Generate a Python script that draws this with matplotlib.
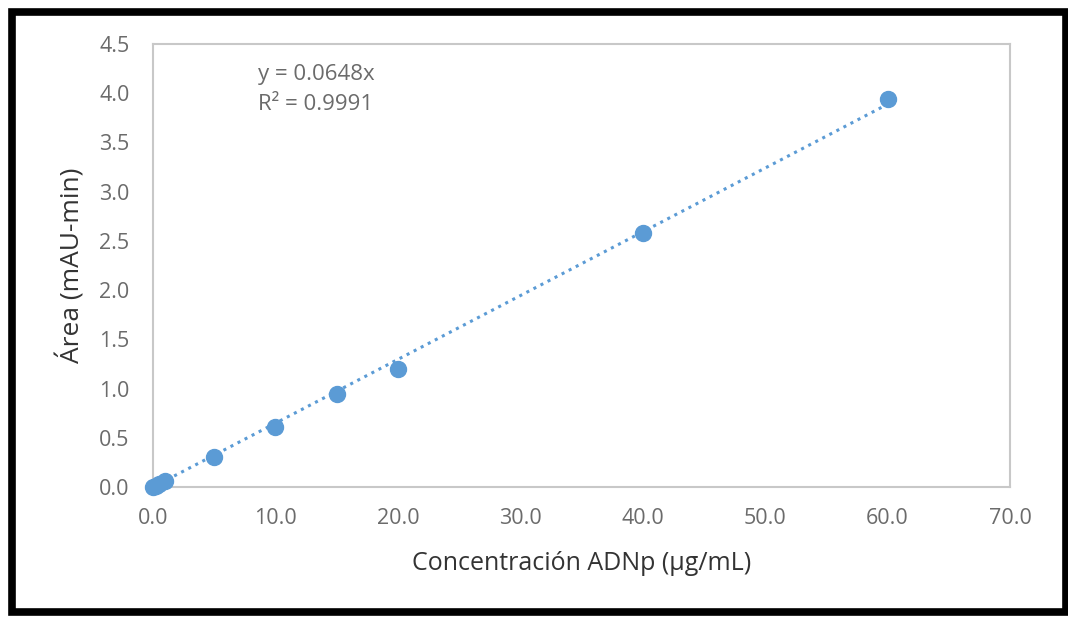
import matplotlib

matplotlib.use("Agg")
import matplotlib.pyplot as plt
from matplotlib.patches import Rectangle

# calibration data
conc = [0.0, 0.25, 0.5, 1.0, 5.0, 10.0, 15.0, 20.0, 40.0, 60.0]
area = [0.0, 0.015, 0.03, 0.06, 0.305, 0.61, 0.945, 1.20, 2.58, 3.94]
slope = 0.0648
r2 = 0.9991
x_ticks = [0, 10, 20, 30, 40, 50, 60, 70]
y_ticks = [0.0, 0.5, 1.0, 1.5, 2.0, 2.5, 3.0, 3.5, 4.0, 4.5]

BLUE = "#5B9BD5"
TICK = "#6b6b6b"
LABEL = "#333333"

plt.rcParams["font.family"] = ["Open Sans", "DejaVu Sans"]

fig = plt.figure(figsize=(10.68, 6.18), dpi=100)
ax = fig.add_axes([0.1433, 0.212, 0.8024, 0.7168])

fit_x = [0.0, max(conc)]
ax.plot(fit_x, [slope * v for v in fit_x], color=BLUE, lw=2.2,
        linestyle=(0, (1, 1.6)), zorder=2)
ax.plot(conc, area, "o", color=BLUE, ms=11.5, zorder=3, clip_on=False)

ax.set_xlim(0, 70)
ax.set_ylim(0, 4.5)
ax.set_xticks(x_ticks)
ax.set_xticklabels([f"{v:.1f}" for v in x_ticks])
ax.set_yticks(y_ticks)
ax.set_yticklabels([f"{v:.1f}" for v in y_ticks])
ax.tick_params(length=0, labelsize=15.5, colors=TICK)
ax.tick_params(axis="y", pad=17)
ax.tick_params(axis="x", pad=15)
for s in ax.spines.values():
    s.set_color("#C8C8C8")
    s.set_linewidth(1.5)

ax.set_xlabel("Concentración ADNp (µg/mL)", fontsize=18, color=LABEL,
              labelpad=16)
ax.set_ylabel("Área (mAU-min)", fontsize=19, color=LABEL, labelpad=10)

ax.text(8.6, 4.19, f"y = {slope}x", fontsize=16, color=TICK, va="center")
ax.text(8.6, 3.89, f"R² = {r2}", fontsize=16, color=TICK, va="center")

# thick black frame around the whole figure
fig.patches.append(Rectangle((0.0108, 0.0105), 0.9869, 0.970,
                             transform=fig.transFigure, fill=False,
                             edgecolor="black", lw=5.5))

fig.savefig("out.png", dpi=100)
